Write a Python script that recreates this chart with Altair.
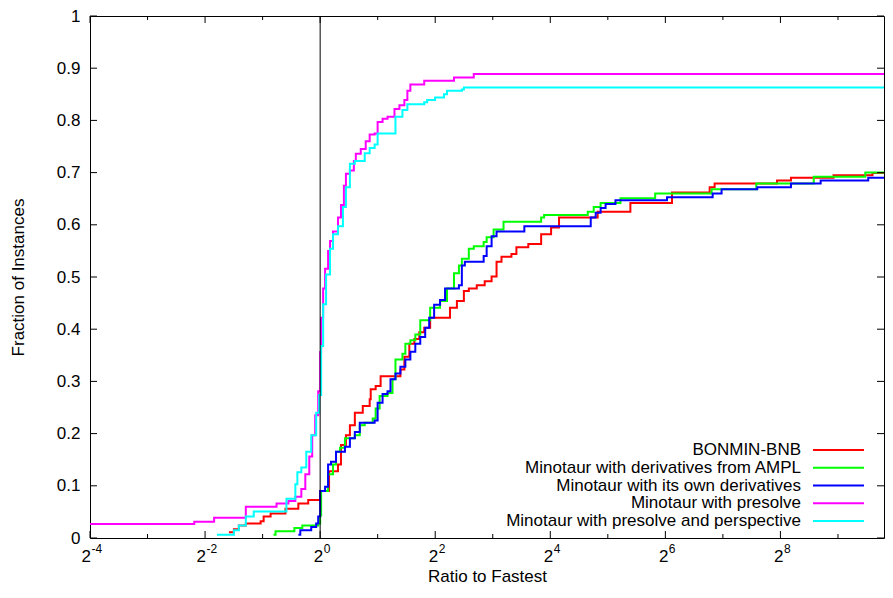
import altair as alt
import pandas as pd

names = [
    "BONMIN-BNB",
    "Minotaur with derivatives from AMPL",
    "Minotaur with its own derivatives",
    "Minotaur with presolve",
    "Minotaur with presolve and perspective",
]
colors = ["#ff0000", "#00ff00", "#0000ff", "#ff00ff", "#00ffff"]

X_MIN, X_MAX = -4, 9.8  # log2(ratio to fastest)

# step points: log2(ratio) where a step begins, and the fraction from there on
bonmin_x = [-1.585, -1.499, -1.413, -1.292, -1.034, -0.982, -0.861, -0.603, -0.379, -0.207,
            0.0, 0.155, 0.310, 0.362, 0.448, 0.517, 0.603, 0.741, 0.861, 0.879, 0.965, 1.051,
            1.395, 1.464, 1.550, 1.637, 1.723, 1.809, 1.912, 2.257, 2.377, 2.498, 2.584, 2.722,
            2.860, 2.980, 3.066, 3.152, 3.325, 3.411, 3.618, 3.841, 4.014, 4.152, 4.823, 5.392,
            6.115, 6.770, 6.856, 7.941, 8.183, 8.923, 9.60]
bonmin_y = [0.011, 0.017, 0.024, 0.028, 0.032, 0.041, 0.047, 0.056, 0.066, 0.073,
            0.090, 0.128, 0.141, 0.178, 0.197, 0.216, 0.240, 0.253, 0.266, 0.285, 0.291, 0.310,
            0.323, 0.347, 0.372, 0.381, 0.394, 0.403, 0.422, 0.441, 0.454, 0.473, 0.478, 0.484,
            0.492, 0.501, 0.529, 0.539, 0.544, 0.557, 0.563, 0.582, 0.595, 0.614, 0.625, 0.642,
            0.662, 0.672, 0.679, 0.685, 0.690, 0.695, 0.699]

ampl_x = [-0.810, -0.775, -0.448, -0.310, -0.034, 0.0, 0.017, 0.138, 0.224, 0.276, 0.345,
          0.431, 0.603, 0.689, 0.775, 0.913, 0.965, 1.034, 1.171, 1.258, 1.309, 1.430, 1.481,
          1.568, 1.654, 1.740, 1.912, 2.084, 2.205, 2.326, 2.412, 2.463, 2.584, 2.670, 2.842,
          2.894, 3.015, 3.187, 3.841, 3.893, 4.651, 4.755, 4.875, 5.220, 5.823, 6.804, 7.580,
          8.579, 9.475]
ampl_y = [0.006, 0.013, 0.019, 0.024, 0.028, 0.043, 0.090, 0.122, 0.141, 0.165, 0.173,
          0.191, 0.197, 0.216, 0.221, 0.229, 0.248, 0.272, 0.278, 0.304, 0.342, 0.353, 0.372,
          0.379, 0.390, 0.417, 0.441, 0.454, 0.478, 0.507, 0.522, 0.535, 0.554, 0.559, 0.567,
          0.576, 0.591, 0.606, 0.614, 0.619, 0.625, 0.634, 0.642, 0.651, 0.660, 0.668, 0.679,
          0.692, 0.700]

own_x = [-0.379, -0.345, -0.155, -0.069, -0.034, 0.0, 0.086, 0.138, 0.189, 0.276, 0.431,
         0.517, 0.603, 0.689, 0.947, 0.999, 1.085, 1.171, 1.223, 1.309, 1.395, 1.481, 1.568,
         1.654, 1.740, 1.826, 1.895, 1.981, 2.084, 2.171, 2.412, 2.463, 2.515, 2.842, 2.894,
         2.980, 3.066, 3.549, 4.703, 4.789, 4.875, 4.961, 5.133, 6.029, 6.822, 6.977, 7.597,
         8.183, 8.699, 9.526]
own_y = [0.006, 0.015, 0.021, 0.028, 0.041, 0.090, 0.098, 0.141, 0.146, 0.165, 0.175,
         0.191, 0.203, 0.221, 0.225, 0.259, 0.276, 0.281, 0.304, 0.315, 0.328, 0.342, 0.357,
         0.372, 0.385, 0.403, 0.422, 0.447, 0.456, 0.478, 0.484, 0.522, 0.529, 0.540, 0.559,
         0.578, 0.587, 0.597, 0.614, 0.623, 0.632, 0.640, 0.647, 0.653, 0.660, 0.668, 0.672,
         0.679, 0.685, 0.690]

presolve_x = [-4.0, -2.188, -1.843, -1.292, -0.758, -0.551, -0.431, -0.327, -0.258, -0.189,
              -0.138, -0.086, -0.034, 0.0, 0.017, 0.052, 0.086, 0.138, 0.172, 0.224, 0.310,
              0.362, 0.413, 0.448, 0.517, 0.586, 0.620, 0.706, 0.792, 0.861, 0.947, 0.999,
              1.085, 1.171, 1.292, 1.378, 1.464, 1.516, 1.568, 1.809, 2.326, 2.670]
presolve_y = [0.027, 0.031, 0.039, 0.060, 0.066, 0.071, 0.079, 0.094, 0.122, 0.156,
              0.197, 0.235, 0.281, 0.356, 0.422, 0.478, 0.516, 0.550, 0.569, 0.587, 0.614,
              0.638, 0.675, 0.698, 0.704, 0.722, 0.736, 0.745, 0.760, 0.773, 0.775, 0.797,
              0.803, 0.807, 0.822, 0.829, 0.839, 0.857, 0.869, 0.876, 0.882, 0.889]

persp_x = [-1.792, -1.499, -1.413, -1.292, -1.154, -0.586, -0.431, -0.396, -0.327, -0.241,
           -0.155, -0.069, -0.017, 0.017, 0.052, 0.103, 0.172, 0.224, 0.310, 0.396, 0.448,
           0.517, 0.603, 0.775, 0.861, 0.947, 0.999, 1.309, 1.430, 1.516, 1.809, 1.860,
           1.998, 2.153, 2.205, 2.463, 2.498]
persp_y = [0.006, 0.015, 0.024, 0.041, 0.051, 0.075, 0.103, 0.126, 0.135, 0.165,
           0.197, 0.240, 0.274, 0.368, 0.448, 0.505, 0.554, 0.582, 0.597, 0.634, 0.672,
           0.717, 0.722, 0.737, 0.747, 0.754, 0.775, 0.807, 0.820, 0.831, 0.835, 0.839,
           0.844, 0.850, 0.857, 0.859, 0.863]

series_x = [bonmin_x, ampl_x, own_x, presolve_x, persp_x]
series_y = [bonmin_y, ampl_y, own_y, presolve_y, persp_y]

x_major = [-4, -2, 0, 2, 4, 6, 8]
x_minor = [-3, -1, 1, 3, 5, 7, 9]
y_ticks = [0, 0.1, 0.2, 0.3, 0.4, 0.5, 0.6, 0.7, 0.8, 0.9, 1]

rows = []
for name, xs, ys in zip(names, series_x, series_y):
    for xv, yv in zip(xs, ys):
        rows.append({"name": name, "x": xv, "y": yv})
    rows.append({"name": name, "x": X_MAX, "y": ys[-1]})
df = pd.DataFrame(rows)

W, H = 794, 522
FONT = "Liberation Sans"
FS = 17
FS_EXP = 12

xscale = alt.Scale(domain=[X_MIN, X_MAX], nice=False, zero=False)
yscale = alt.Scale(domain=[0, 1], nice=False, zero=False)
color_scale = alt.Scale(domain=names, range=colors)

lines = alt.Chart(df).mark_line(interpolate="step-after", strokeWidth=2, clip=True).encode(
    x=alt.X("x:Q", scale=xscale, title="Ratio to Fastest",
            axis=alt.Axis(values=x_major, labels=False, titlePadding=30)),
    y=alt.Y("y:Q", scale=yscale, title="Fraction of Instances",
            axis=alt.Axis(values=y_ticks, format="~g", labelPadding=10, titlePadding=29)),
    color=alt.Color("name:N", scale=color_scale, legend=None),
)

zero_line = alt.Chart(pd.DataFrame({"x": [0]})).mark_rule(color="black", strokeWidth=1).encode(
    x=alt.X("x:Q", scale=xscale)
)

xmaj = pd.DataFrame({"t": x_major, "base": ["2"] * len(x_major), "exp": [str(v) for v in x_major]})
xneg = xmaj[xmaj["t"] < 0]
xpos = xmaj[xmaj["t"] >= 0]
xmin = pd.DataFrame({"t": x_minor})
ydf = pd.DataFrame({"v": y_ticks})
tick_style = dict(color="black", strokeWidth=1)
ticks = [
    alt.Chart(xmaj).mark_rule(**tick_style).encode(x=alt.X("t:Q", scale=xscale), y=alt.value(H), y2=alt.value(H - 7)),
    alt.Chart(xmaj).mark_rule(**tick_style).encode(x=alt.X("t:Q", scale=xscale), y=alt.value(0), y2=alt.value(7)),
    alt.Chart(xmin).mark_rule(**tick_style).encode(x=alt.X("t:Q", scale=xscale), y=alt.value(H), y2=alt.value(H - 4)),
    alt.Chart(xmin).mark_rule(**tick_style).encode(x=alt.X("t:Q", scale=xscale), y=alt.value(0), y2=alt.value(4)),
    alt.Chart(ydf).mark_rule(**tick_style).encode(y=alt.Y("v:Q", scale=yscale), x=alt.value(0), x2=alt.value(7)),
    alt.Chart(ydf).mark_rule(**tick_style).encode(y=alt.Y("v:Q", scale=yscale), x=alt.value(W), x2=alt.value(W - 7)),
]

# x tick labels "2^n" drawn as base + superscript
tlabels = []
for part, dxb in ((xneg, 1), (xpos, 3)):
    tlabels.append(alt.Chart(part).mark_text(
        align="right", baseline="alphabetic", font=FONT, fontSize=FS, color="black", dx=dxb, clip=False
    ).encode(x=alt.X("t:Q", scale=xscale), y=alt.value(H + 24), text="base:N"))
    tlabels.append(alt.Chart(part).mark_text(
        align="left", baseline="alphabetic", font=FONT, fontSize=FS_EXP, color="black", dx=dxb + 0.5, clip=False
    ).encode(x=alt.X("t:Q", scale=xscale), y=alt.value(H + 15), text="exp:N"))

main = alt.layer(lines, zero_line, *ticks, *tlabels)

leg_df = pd.DataFrame({"name": names})
leg_y = alt.Y("name:N", scale=alt.Scale(type="point", domain=names, range=[434, 505], padding=0), axis=None)
leg_text = alt.Chart(leg_df).mark_text(align="right", baseline="middle", font=FONT, fontSize=FS, color="black").encode(
    x=alt.value(711), y=leg_y, text="name:N"
)
leg_line = alt.Chart(leg_df).mark_rule(strokeWidth=2).encode(
    x=alt.value(723), x2=alt.value(774), y=leg_y,
    color=alt.Color("name:N", scale=color_scale, legend=None),
)
legend = alt.layer(leg_text, leg_line)

chart = alt.layer(main, legend).resolve_scale(y="independent").properties(
    width=W, height=H,
    autosize=alt.AutoSizeParams(type="none"),
    padding={"left": 82, "top": 8, "right": 1, "bottom": 47},
    background="white",
).configure_view(stroke="black", strokeWidth=1).configure_axis(
    grid=False, ticks=False, domain=False,
    labelFont=FONT, labelFontSize=FS, labelColor="black",
    titleFont=FONT, titleFontSize=FS, titleFontWeight="normal", titleColor="black",
)

chart.save("out.html", embed_options={"renderer": "svg", "actions": False})
